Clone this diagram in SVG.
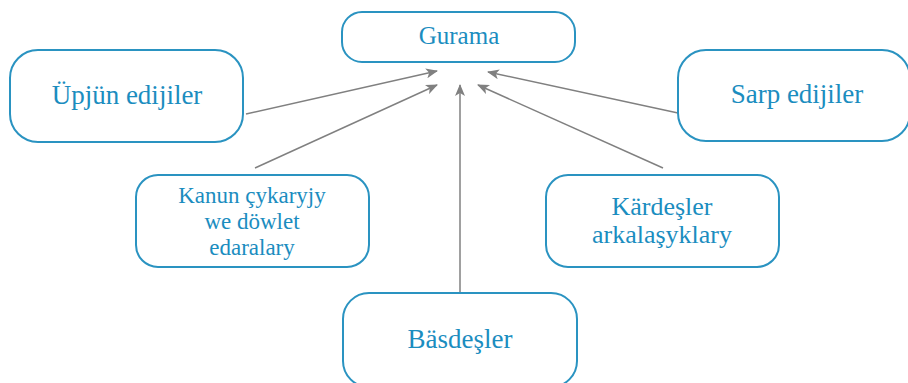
<svg xmlns="http://www.w3.org/2000/svg" width="908" height="383" viewBox="0 0 908 383">
<style>
.box{fill:#fff;stroke:#2a93c1;stroke-width:2}
.t{font-family:"Liberation Serif",serif;fill:#1b8dbf;text-anchor:middle}
.c{stroke:#808080;stroke-width:1.5;fill:none;marker-end:url(#ah)}
</style>
<defs>
<marker id="ah" viewBox="0 0 12 10" refX="11" refY="5" markerWidth="12" markerHeight="10" markerUnits="userSpaceOnUse" orient="auto">
<path d="M0,0 L12,5 L0,10 L3,5 Z" fill="#808080"/>
</marker>
</defs>
<rect width="908" height="383" fill="#fff"/>
<g id="connectors">
<line class="c" x1="246" y1="114" x2="437" y2="71"/>
<line class="c" x1="255" y1="168" x2="437" y2="85"/>
<line class="c" x1="460" y1="293" x2="460" y2="85"/>
<line class="c" x1="663" y1="168" x2="478" y2="85"/>
<line class="c" x1="678" y1="113" x2="488" y2="72"/>
</g>
<g id="gurama">
<rect class="box" x="342" y="12" width="233" height="50" rx="20"/>
<text class="t" x="459" y="44" font-size="25">Gurama</text>
</g>
<g id="upjun">
<rect class="box" x="10" y="50" width="233" height="92" rx="28"/>
<text class="t" x="127" y="104" font-size="27">Üpjün edijiler</text>
</g>
<g id="sarp">
<rect class="box" x="678" y="50" width="232" height="91" rx="28"/>
<text class="t" x="797" y="103" font-size="27">Sarp edijiler</text>
</g>
<g id="kanun">
<rect class="box" x="136" y="175" width="233" height="92" rx="22"/>
<text class="t" x="252" y="203" font-size="23">Kanun çykaryjy</text>
<text class="t" x="252" y="229" font-size="23">we döwlet</text>
<text class="t" x="252" y="255" font-size="23">edaralary</text>
</g>
<g id="kardesler">
<rect class="box" x="546" y="175" width="233" height="92" rx="22"/>
<text class="t" x="662" y="215" font-size="26">Kärdeşler</text>
<text class="t" x="662" y="243" font-size="26">arkalaşyklary</text>
</g>
<g id="basdesler">
<rect class="box" x="343" y="293" width="234" height="94" rx="26"/>
<text class="t" x="460" y="348" font-size="27">Bäsdeşler</text>
</g>
</svg>
